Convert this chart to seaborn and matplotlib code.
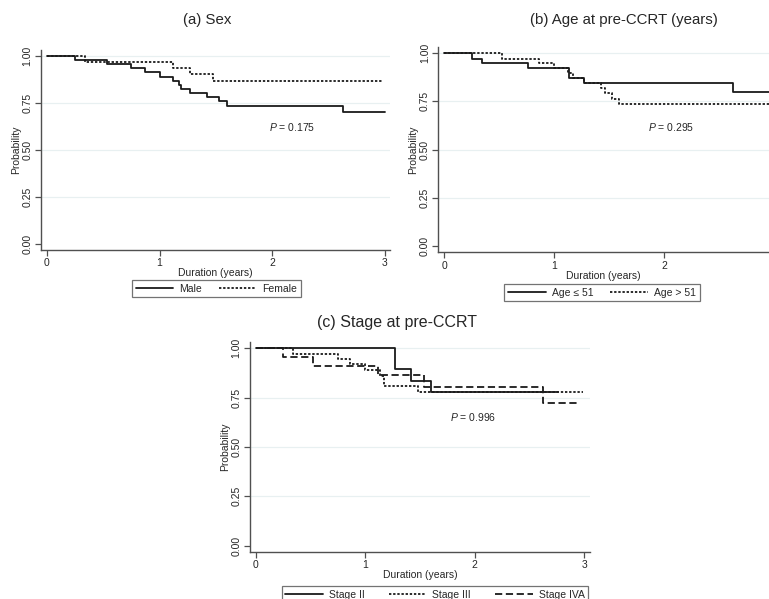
import matplotlib
matplotlib.use("Agg")
import matplotlib.pyplot as plt
import seaborn as sns
import pandas as pd
from matplotlib.lines import Line2D

# Kaplan-Meier step data (time in years, survival probability)
male_t = [0, 0.25, 0.53, 0.75, 0.87, 1.0, 1.12, 1.17, 1.19, 1.27, 1.42, 1.53, 1.6, 2.63, 3.0]
male_s = [1.0, 0.978, 0.956, 0.934, 0.912, 0.89, 0.868, 0.846, 0.824, 0.802, 0.78, 0.758, 0.736, 0.70, 0.70]
female_t = [0, 0.34, 1.12, 1.27, 1.47, 2.98]
female_s = [1.0, 0.97, 0.936, 0.905, 0.866, 0.866]

young_t = [0, 0.25, 0.34, 0.76, 1.13, 1.27, 2.62, 2.95]
young_s = [1.0, 0.972, 0.947, 0.921, 0.871, 0.843, 0.80, 0.80]
old_t = [0, 0.52, 0.86, 1.0, 1.12, 1.17, 1.27, 1.42, 1.46, 1.52, 1.59, 2.95]
old_s = [1.0, 0.972, 0.947, 0.922, 0.897, 0.871, 0.843, 0.817, 0.791, 0.764, 0.736, 0.736]

st2_t = [0, 1.27, 1.42, 1.6, 2.76]
st2_s = [1.0, 0.893, 0.836, 0.778, 0.778]
st3_t = [0, 0.34, 0.75, 0.86, 1.0, 1.13, 1.17, 1.48, 2.99]
st3_s = [1.0, 0.972, 0.944, 0.919, 0.89, 0.861, 0.81, 0.78, 0.78]
st4_t = [0, 0.25, 0.52, 1.12, 1.54, 2.62, 2.96]
st4_s = [1.0, 0.955, 0.908, 0.862, 0.805, 0.725, 0.725]

yticks = [0.0, 0.25, 0.5, 0.75, 1.0]
ytick_labels = ["0.00", "0.25", "0.50", "0.75", "1.00"]

sns.set_style("white")
plt.rcParams["font.family"] = ["Liberation Sans", "DejaVu Sans"]
plt.rcParams["mathtext.fontset"] = "custom"
plt.rcParams["mathtext.it"] = "Liberation Sans:italic"
plt.rcParams["mathtext.rm"] = "Liberation Sans"

SOLID = "-"
DOT = (0, (1.3, 1.0))
DASH = (0, (4.0, 2.0))
LC = "#1a1a1a"

fig = plt.figure(figsize=(7.69, 5.99), dpi=100)


def km_panel(ax, curves, xmax, xticks, ptext, px, py):
    for t, s, ls in curves:
        d = pd.DataFrame({"t": t, "s": s})
        sns.lineplot(data=d, x="t", y="s", ax=ax, drawstyle="steps-post",
                     estimator=None, color=LC, linestyle=ls, lw=1.3)
    ax.set_xlim(-0.054, xmax)
    ax.set_ylim(-0.032, 1.03)
    ax.set_yticks(yticks)
    ax.set_yticklabels(ytick_labels, rotation=90, va="center")
    ax.set_xticks(xticks)
    for y in yticks[1:]:
        ax.axhline(y, color="#e8f0f1", lw=0.9, zorder=0)
    for sp in ["top", "right"]:
        ax.spines[sp].set_visible(False)
    for sp in ["left", "bottom"]:
        ax.spines[sp].set_color("#505050")
        ax.spines[sp].set_linewidth(1.0)
    ax.tick_params(axis="both", direction="out", length=4, width=0.9,
                   color="#505050", labelsize=7.5, pad=2, left=True, bottom=True)
    ax.set_xlabel("Duration (years)", fontsize=7.5, labelpad=0)
    ax.set_ylabel("Probability", fontsize=7.5, labelpad=1)
    ax.text(px, py, ptext, fontsize=7.5, ha="left", va="center")


# (a) Sex
ax1 = fig.add_axes([0.053, 0.583, 0.454, 0.333])
km_panel(ax1, [(male_t, male_s, SOLID), (female_t, female_s, DOT)], 3.044, [0, 1, 2, 3],
         r"$\it{P}$ = 0.175", 1.97, 0.62)
fig.text(207 / 769, 1 - 20 / 599, "(a) Sex", fontsize=10.8, ha="center", va="center")

# (b) Age
ax2 = fig.add_axes([0.570, 0.579, 0.430, 0.342])
km_panel(ax2, [(young_t, young_s, SOLID), (old_t, old_s, DOT)], 2.95, [0, 1, 2],
         r"$\it{P}$ = 0.295", 1.85, 0.615)
fig.text(624 / 769, 1 - 20 / 599, "(b) Age at pre-CCRT (years)", fontsize=10.8,
         ha="center", va="center")

# (c) Stage
ax3 = fig.add_axes([0.325, 0.0785, 0.442, 0.350])
km_panel(ax3, [(st2_t, st2_s, SOLID), (st3_t, st3_s, DOT), (st4_t, st4_s, DASH)], 3.05,
         [0, 1, 2, 3], r"$\it{P}$ = 0.996", 1.77, 0.651)
fig.text(397 / 769, 1 - 322 / 599, "(c) Stage at pre-CCRT", fontsize=11.5,
         ha="center", va="center")


def add_legend(labels, styles, cx, cy, colsp):
    handles = [Line2D([], [], color=LC, lw=1.3, linestyle=ls) for ls in styles]
    leg = fig.legend(handles, labels, loc="center", bbox_to_anchor=(cx / 769, 1 - cy / 599),
                     ncol=len(labels), fontsize=7.5, frameon=True, fancybox=False,
                     edgecolor="#505050", handlelength=3.6, columnspacing=colsp,
                     handletextpad=0.6, borderpad=0.35)
    leg.get_frame().set_linewidth(0.9)


add_legend(["Male", "Female"], [SOLID, DOT], 216.5, 288.5, 1.6)
add_legend(["Age \u2264 51", "Age > 51"], [SOLID, DOT], 602, 292.5, 1.6)
add_legend(["Stage II", "Stage III", "Stage IVA"], [SOLID, DOT, DASH], 435, 595, 2.3)

fig.savefig("out.png", dpi=100)
